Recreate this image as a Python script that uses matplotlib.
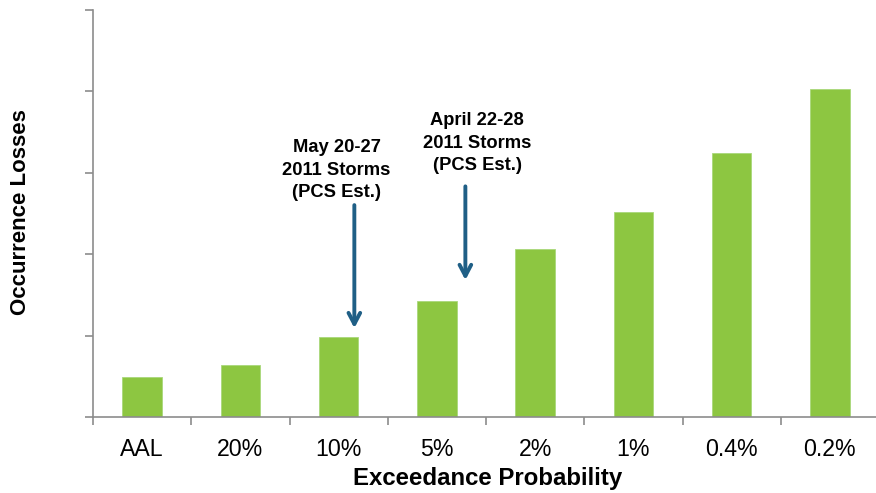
import matplotlib.pyplot as plt

plt.rcParams['font.family'] = ['Liberation Sans', 'DejaVu Sans']

# Exceedance probability levels and modelled occurrence losses
categories = ["AAL", "20%", "10%", "5%", "2%", "1%", "0.4%", "0.2%"]
losses = [0.49, 0.635, 0.98, 1.42, 2.06, 2.52, 3.24, 4.03]

# Storm events marked against the loss curve
event_labels = ["May 20-27\n2011 Storms\n(PCS Est.)", "April 22-28\n2011 Storms\n(PCS Est.)"]
event_x = [2.16, 3.29]
event_top = [2.6, 2.83]
event_tip = [1.09, 1.68]
label_x = [1.98, 3.41]
label_y = [3.03, 3.36]

bar_color = "#8DC641"
arrow_color = "#1F5F86"
axis_color = "#8C8C8C"

fig = plt.figure(figsize=(8.76, 4.93), dpi=100)
ax = fig.add_axes([93 / 876, 1 - 417 / 493, 786 / 876, (417 - 9.5) / 493])

x = range(len(categories))
ax.bar(x, losses, width=0.4, color=bar_color, edgecolor="#A9D87A", linewidth=0.6, zorder=2)

ax.set_xlim(-0.5, len(categories) - 0.5)
ax.set_ylim(0, 5)

# Category separators as ticks on the x axis, labels centred under the bars
ax.set_xticks([i - 0.5 for i in range(len(categories) + 1)])
ax.set_xticklabels([])
ax.set_xticks(list(x), minor=True)
ax.set_xticklabels(categories, minor=True, fontsize=16.7)
ax.tick_params(axis="x", which="major", direction="out", length=6, width=1.2, color=axis_color)
ax.tick_params(axis="x", which="minor", length=0, pad=15)

ax.set_yticks([0, 1, 2, 3, 4, 5])
ax.set_yticklabels([])
ax.tick_params(axis="y", direction="out", length=6, width=1.2, color=axis_color)

for side in ("top", "right"):
    ax.spines[side].set_visible(False)
for side in ("left", "bottom"):
    ax.spines[side].set_color(axis_color)
    ax.spines[side].set_linewidth(1.2)

fig.text(488 / 876, 1 - 479 / 493, "Exceedance Probability", ha="center", va="center",
         fontsize=17.3, fontweight="bold")
fig.text(21 / 876, 1 - 212 / 493, "Occurrence Losses", ha="center", va="center",
         rotation=90, fontsize=16, fontweight="bold")

for label, ex, top, tip, lx, ly in zip(event_labels, event_x, event_top, event_tip, label_x, label_y):
    ax.annotate("", xy=(ex, tip), xytext=(ex, top),
                arrowprops=dict(arrowstyle="->,head_length=0.8,head_width=0.42",
                                color=arrow_color, lw=2.8, shrinkA=0, shrinkB=0))
    ax.text(lx, ly, label, ha="center", va="center",
            fontsize=13.2, fontweight="bold", linespacing=1.4)

fig.savefig("out.png", dpi=100)
